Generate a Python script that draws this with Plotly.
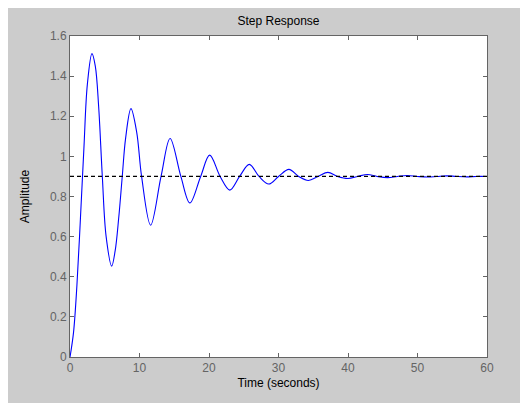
import plotly.graph_objects as go

# step response (extrema, 0.9 crossings, a few points on the first swings)
t_s = [0, 0.5, 1.0, 1.5, 2.0, 2.5, 3.16, 3.64, 4.12, 4.65, 5.2, 6.0, 6.5, 7.0, 7.52,
       8.0, 8.77, 9.6, 10.3, 11.6, 13.1, 14.4,
       15.95, 17.25, 18.8, 20.1, 21.6, 23.0, 24.4, 25.8, 27.2, 28.6, 30.0, 31.5,
       32.9, 34.3, 35.7, 37.1, 38.5, 40.0, 41.4, 42.8, 44.2, 45.7, 47.1, 48.5,
       50.0, 51.4, 52.8, 54.2, 55.6, 57.1, 58.5, 60.0]
amp = [0, 0.12, 0.36, 0.69, 1.04, 1.36, 1.512, 1.45, 1.25, 0.9, 0.6, 0.453, 0.53, 0.69, 0.9,
       1.09, 1.238, 1.12, 0.9, 0.657, 0.9, 1.089,
       0.9, 0.768, 0.9, 1.006, 0.9, 0.832, 0.9, 0.96, 0.9, 0.862, 0.9, 0.935,
       0.9, 0.88, 0.9, 0.92, 0.9, 0.89, 0.9, 0.91, 0.9, 0.894, 0.9, 0.905,
       0.9, 0.897, 0.9, 0.903, 0.9, 0.898, 0.9, 0.9]

final_t = [0, 60]
final_val = [0.9, 0.9]

x_ticks = [0, 10, 20, 30, 40, 50, 60]
y_ticks = [0, 0.2, 0.4, 0.6, 0.8, 1, 1.2, 1.4, 1.6]
y_labels = ['0', '0.2', '0.4', '0.6', '0.8', '1', '1.2', '1.4', '1.6']

FONT = 'Liberation Sans, Arial, sans-serif'
GRIS = '#646464'

fig = go.Figure()
fig.add_trace(go.Scatter(
    x=t_s, y=amp, mode='lines',
    line=dict(color='#0000ff', width=1.1, shape='spline', smoothing=1.0),
    showlegend=False,
))
fig.add_trace(go.Scatter(
    x=final_t, y=final_val, mode='lines',
    line=dict(color='black', width=1.2, dash='4px,3px'),
    showlegend=False,
))

ejes = dict(
    showgrid=False, zeroline=False,
    showline=True, linecolor=GRIS, linewidth=1, mirror='ticks',
    ticks='inside', ticklen=4, tickcolor=GRIS,
    tickfont=dict(family=FONT, size=12, color=GRIS),
)
# la página deja 8 px de margen de <body>: se compensa en los márgenes
fig.update_layout(
    width=528, height=403,
    paper_bgcolor='#cccccc', plot_bgcolor='white',
    margin=dict(l=62, r=49, t=28, b=54),
    title=dict(text='Step Response', x=0.5, xref='paper', xanchor='center',
               y=1 - 13 / 403, yref='container', yanchor='middle',
               font=dict(family=FONT, size=12, color='black')),
    xaxis=dict(range=[0, 60], tickvals=x_ticks,
               title=dict(text='Time (seconds)', standoff=4,
                          font=dict(family=FONT, size=12, color='black')),
               **ejes),
    yaxis=dict(range=[0, 1.6], tickvals=y_ticks, ticktext=y_labels,
               title=dict(text='Amplitude', standoff=17,
                          font=dict(family=FONT, size=12, color='black')),
               **ejes),
)

fig.write_html('out.html')
